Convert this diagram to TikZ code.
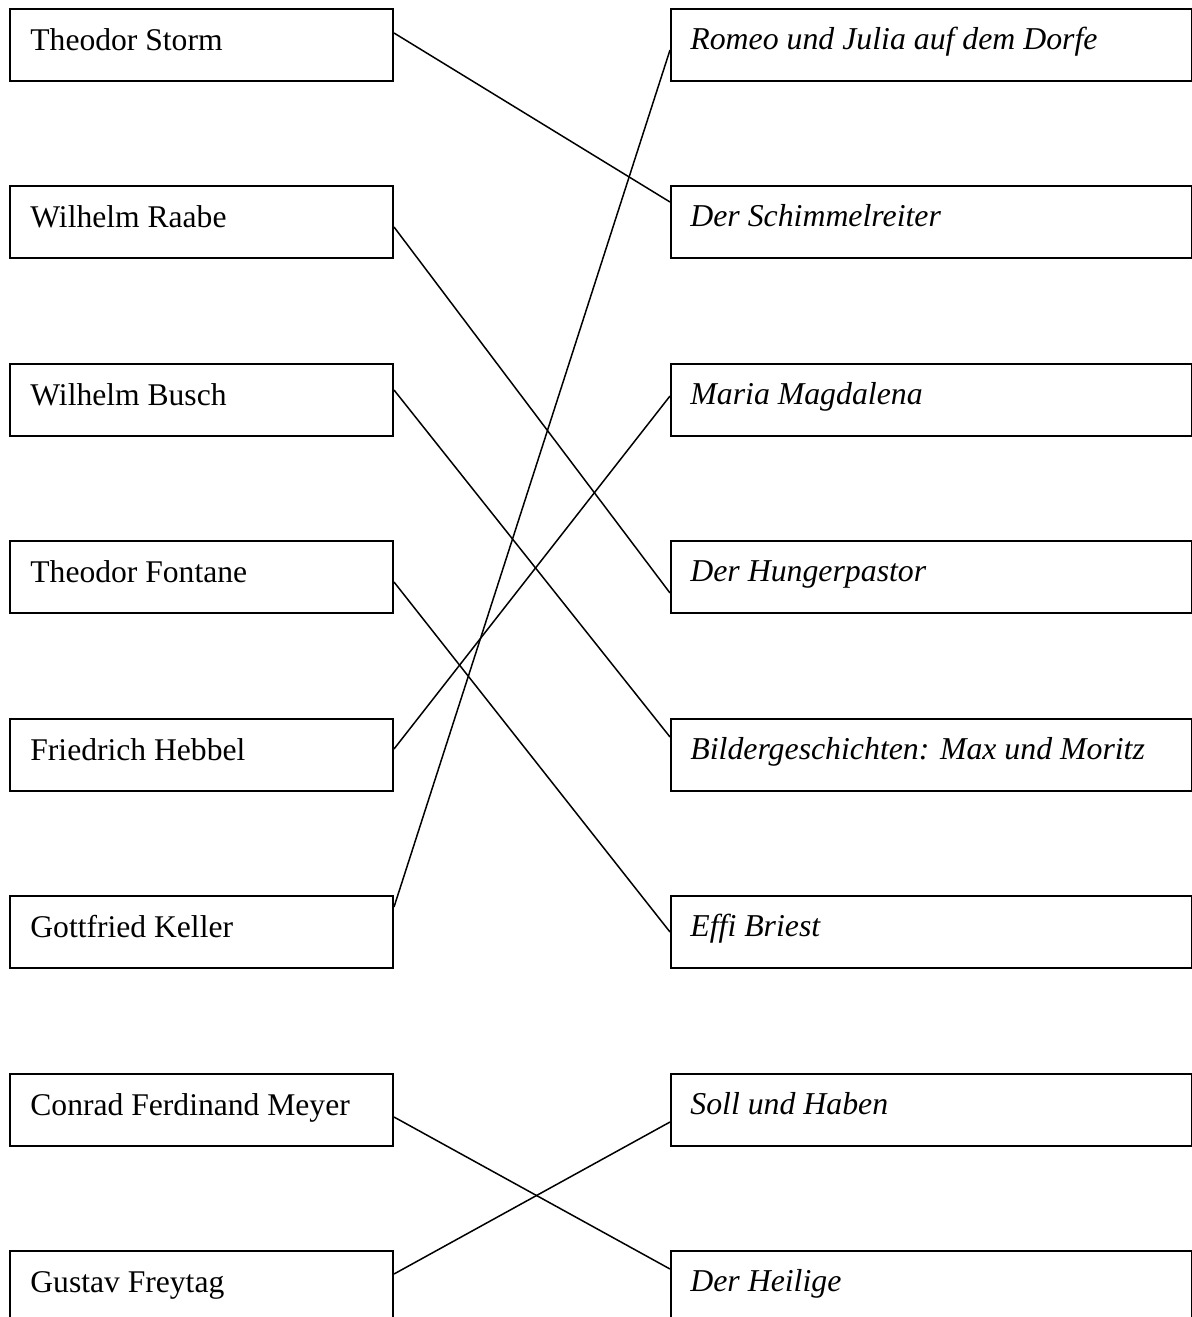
\documentclass[tikz,border=0pt]{standalone}
\usepackage{fontspec}
\setmainfont{Liberation Serif}
\begin{document}
\begin{tikzpicture}[x=0.5pt,y=-0.5pt,
  lbox/.style={draw,line width=1pt,rectangle,anchor=north west,inner sep=0pt,
     minimum height=36pt,minimum width=191.5pt},
  rbox/.style={draw,line width=1pt,rectangle,anchor=north west,inner sep=0pt,
     minimum height=36pt,minimum width=260.5pt},
  ltxt/.style={anchor=base west,inner sep=0pt,font=\fontsize{15.8}{19}\selectfont},
  rtxt/.style={anchor=base west,inner sep=0pt,font=\fontsize{15.9}{19}\selectfont\itshape},
  conn/.style={line width=0.75pt}]
\useasboundingbox (0,0) rectangle (1192,1317);
\foreach \n/\y/\t in {1/8/Theodor Storm,2/185/Wilhelm Raabe,3/363/Wilhelm Busch,4/540/Theodor Fontane,
   5/718/Friedrich Hebbel,6/895/Gottfried Keller,7/1073/Conrad Ferdinand Meyer,8/1250/Gustav Freytag}{
  \node[lbox] (l\n) at (9,\y) {};
  \node[ltxt] (lt\n) at ([xshift=10.5pt,yshift=-21pt]l\n.north west) {\t};
}
\foreach \n/\y/\t in {1/8/Romeo und Julia auf dem Dorfe,2/185/Der Schimmelreiter,3/363/Maria Magdalena,
   4/540/Der Hungerpastor,5/718/Bildergeschichten: Max und Moritz,6/895/Effi Briest,
   7/1073/Soll und Haben,8/1250/Der Heilige}{
  \node[rbox] (r\n) at (670,\y) {};
  \node[rtxt] (rt\n) at ([xshift=10pt,yshift=-20.5pt]r\n.north west) {\t};
}
\draw[conn] ([yshift=-12.5pt]l1.north east) -- ([yshift=-8.5pt]r2.north west);
\draw[conn] ([yshift=-21pt]l2.north east) -- ([yshift=-26.5pt]r4.north west);
\draw[conn] ([yshift=-13.5pt]l3.north east) -- ([yshift=-9.5pt]r5.north west);
\draw[conn] ([yshift=-21pt]l4.north east) -- ([yshift=-18.5pt]r6.north west);
\draw[conn] ([yshift=-15.5pt]l5.north east) -- ([yshift=-16.5pt]r3.north west);
\draw[conn] ([yshift=-6pt]l6.north east) -- ([yshift=-21pt]r1.north west);
\draw[conn] ([yshift=-22pt]l7.north east) -- ([yshift=-9.5pt]r8.north west);
\draw[conn] ([yshift=-12pt]l8.north east) -- ([yshift=-24.5pt]r7.north west);
\end{tikzpicture}
\end{document}
